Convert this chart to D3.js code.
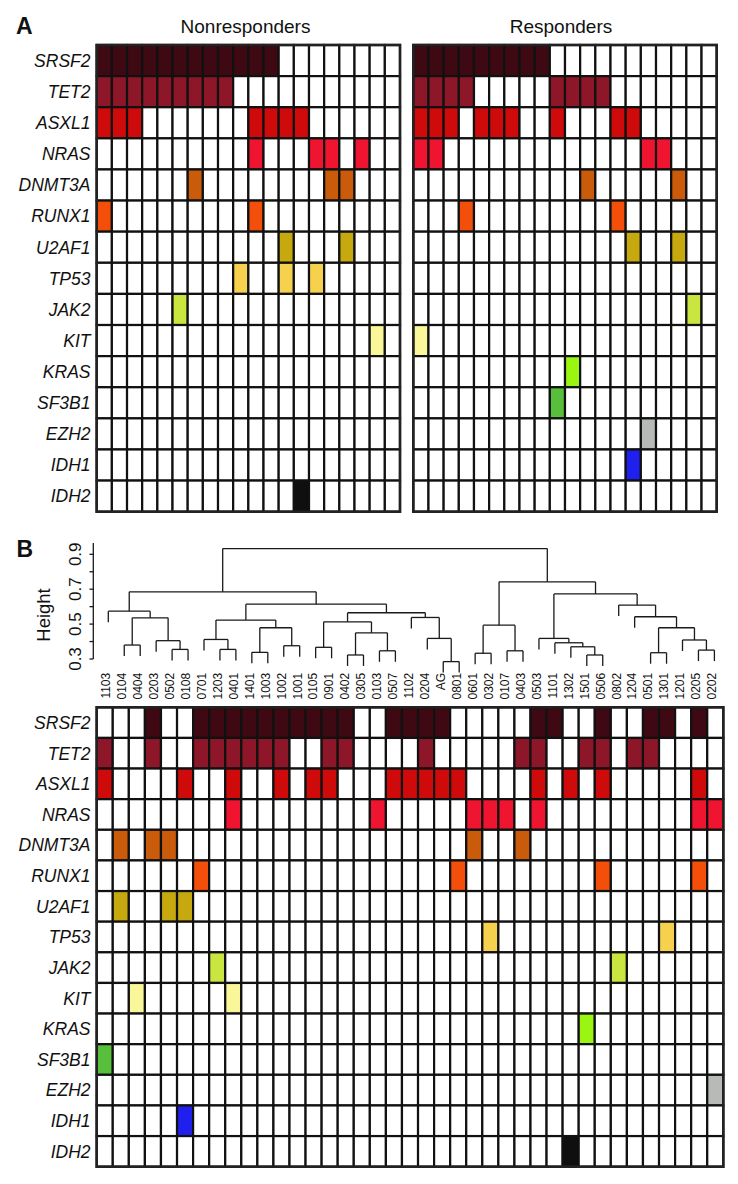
<!DOCTYPE html>
<html><head><meta charset="utf-8">
<script src="https://cdn.jsdelivr.net/npm/d3@7"></script>
<style>
body{margin:0;background:#fff}
svg{display:block}
text{font-family:"Liberation Sans",Arial,Helvetica,sans-serif;fill:#111}
</style>
</head><body>
<svg id="chart" width="738" height="1184"></svg>
<script>
// ---------- DATA ----------
const genes = ["SRSF2","TET2","ASXL1","NRAS","DNMT3A","RUNX1","U2AF1","TP53","JAK2","KIT","KRAS","SF3B1","EZH2","IDH1","IDH2"];
const geneColors = ["#3f0914","#8e1629","#cf0a0a","#ef1530","#c95b0b","#f44f0a","#c6a90f","#f6d14d","#c9e53f","#f9f79a","#9af511","#58bf3c","#b7bab6","#2020ee","#0f0f0f"];

// Panel A: mutated column indices per gene (20 patients each)
const nonresponders = [
  [0,1,2,3,4,5,6,7,8,9,10,11],
  [0,1,2,3,4,5,6,7,8],
  [0,1,2,10,11,12,13],
  [10,14,15,17],
  [6,15,16],
  [0,10],
  [12,16],
  [9,12,14],
  [5],
  [18],
  [],
  [],
  [],
  [],
  [13]
];
const responders = [
  [0,1,2,3,4,5,6,7,8],
  [0,1,2,3,9,10,11,12],
  [0,1,2,4,5,6,9,13,14],
  [0,1,15,16],
  [11,17],
  [3,13],
  [14,17],
  [],
  [18],
  [0],
  [10],
  [9],
  [15],
  [14],
  []
];

// Panel B: leaf order of the clustering
const clusterLabels = ["1103","0104","0404","0203","0502","0108","0701","1203","0401","1401","1003","1002","1001","0105","0901","0402","0305","0103","0507","1102","0204","AG","0801","0601","0302","0107","0403","0503","1101","1302","1501","0506","0802","1204","0501","1301","1201","0205","0202"];
const clusterMutations = [
  [3,6,7,8,9,10,11,12,13,14,15,18,19,20,21,27,28,31,34,35,37],
  [0,3,6,7,8,9,10,11,14,15,20,26,27,30,31,33,34],
  [0,5,8,11,13,14,18,19,20,21,22,27,29,31,37],
  [8,17,23,24,25,27,37,38],
  [1,3,4,23,26],
  [6,22,31,37],
  [1,4,5],
  [24,35],
  [7,32],
  [2,8],
  [30],
  [0],
  [38],
  [5],
  [29]
];

// hclust-style merges: negative = leaf (1-based), positive = earlier merge (1-based)
const mergePairs = [
  [-22,-23],[-16,-17],[-31,-32],[-24,-25],[-35,-36],[-10,-11],[-5,-6],[-8,-9],
  [-18,-19],[-26,-27],[-38,-39],[-14,-15],[-30,3],[-12,-13],[-2,-3],[-29,13],
  [-4,7],[-37,11],[-7,8],[-28,16],[-21,1],[2,9],[6,14],[5,18],[4,10],[12,22],
  [19,23],[15,17],[-20,21],[-34,24],[26,29],[-1,28],[-33,30],[27,31],[20,33],
  [32,34],[25,35],[36,37]
];
const mergeHeights = [
  0.285,0.323,0.323,0.333,0.336,0.338,0.355,0.355,
  0.347,0.347,0.351,0.367,0.370,0.376,0.380,0.393,
  0.405,0.409,0.412,0.418,0.418,0.450,0.479,0.479,0.494,0.513,
  0.523,0.536,0.538,0.542,0.565,0.574,0.609,0.614,0.673,
  0.685,0.742,0.933
];
const heightTicks = [0.3,0.4,0.5,0.6,0.7,0.8,0.9];
const heightTickLabels = ["0.3","","0.5","","0.7","","0.9"];

// ---------- DRAW ----------
const svg = d3.select("#chart");
const ink = "#111";

function drawGrid(x0, x1, y0, y1, nCols, mutations) {
  const g = svg.append("g");
  const xs = d3.scaleBand().domain(d3.range(nCols)).range([x0, x1]);
  const ys = d3.scaleBand().domain(genes).range([y0, y1]);
  const cells = [];
  genes.forEach((gene, r) => {
    d3.range(nCols).forEach(c => {
      cells.push({gene, c, on: mutations[r].includes(c), color: geneColors[r]});
    });
  });
  g.selectAll("rect.cell").data(cells).join("rect")
    .attr("class","cell")
    .attr("x", d => xs(d.c))
    .attr("y", d => ys(d.gene))
    .attr("width", xs.bandwidth())
    .attr("height", ys.bandwidth())
    .attr("fill", d => d.on ? d.color : "#fff")
    .attr("stroke", ink)
    .attr("stroke-width", 2.2);
  g.append("rect")
    .attr("x", x0).attr("y", y0).attr("width", x1 - x0).attr("height", y1 - y0)
    .attr("fill","none").attr("stroke","#222").attr("stroke-width",2.6);
  return ys;
}

function rowLabels(ys, xRight) {
  svg.append("g").selectAll("text").data(genes).join("text")
    .attr("x", xRight)
    .attr("y", d => ys(d) + ys.bandwidth()/2)
    .attr("dy","0.36em")
    .attr("text-anchor","end")
    .attr("font-style","italic")
    .attr("font-size", 17.5)
    .text(d => d);
}

// Panel A
svg.append("text").attr("x",16).attr("y",33.5).attr("font-weight","bold").attr("font-size",23).text("A");
const ysA = drawGrid(96.7, 400, 45, 511.7, 20, nonresponders);
drawGrid(413.3, 716.7, 45, 511.7, 20, responders);
rowLabels(ysA, 90.5);
svg.append("text").attr("x",245.5).attr("y",33.3).attr("text-anchor","middle").attr("font-size",19).text("Nonresponders");
svg.append("text").attr("x",561).attr("y",32.5).attr("text-anchor","middle").attr("font-size",19).text("Responders");

// Panel B
svg.append("text").attr("x",16.5).attr("y",557).attr("font-weight","bold").attr("font-size",23).text("B");
const ysB = drawGrid(96.7, 723.3, 707.3, 1166.7, clusterLabels.length, clusterMutations);
rowLabels(ysB, 90.5);

// Dendrogram
const xLeaf = d3.scalePoint().domain(d3.range(clusterLabels.length)).range([108.3, 714.4]);
const yH = d3.scaleLinear().domain([0.3, 0.9]).range([659, 554.3]);
const hang = 0.063;
const dg = svg.append("g").attr("stroke","#1a1a1a").attr("stroke-width",1.3).attr("fill","none");
const nodes = [];
const segs = [];
function ref(v) {
  return v < 0 ? {x: xLeaf(-v - 1), h: null} : nodes[v - 1];
}
mergePairs.forEach((pair, k) => {
  const h = mergeHeights[k];
  const a = ref(pair[0]), b = ref(pair[1]);
  segs.push([a.x, h, b.x, h]);
  [a, b].forEach(ch => {
    const bottom = ch.h === null ? h - hang : ch.h;
    segs.push([ch.x, h, ch.x, bottom]);
  });
  nodes.push({x: (a.x + b.x) / 2, h});
});
dg.selectAll("line").data(segs).join("line")
  .attr("x1", d => d[0]).attr("y1", d => yH(d[1]))
  .attr("x2", d => d[2]).attr("y2", d => yH(d[3]));

// Height axis
const ax = svg.append("g");
ax.append("line").attr("x1",93.3).attr("x2",93.3).attr("y1",yH(0.3)).attr("y2",543)
  .attr("stroke","#1a1a1a").attr("stroke-width",1.3);
ax.selectAll("line.tick").data(heightTicks).join("line").attr("class","tick")
  .attr("x1",89.5).attr("x2",93.3).attr("y1",d=>yH(d)).attr("y2",d=>yH(d))
  .attr("stroke","#1a1a1a").attr("stroke-width",1.3);
ax.selectAll("text").data(heightTicks).join("text")
  .attr("transform", d => `translate(81,${yH(d)}) rotate(-90)`)
  .attr("text-anchor","middle")
  .attr("font-size",17)
  .text((d,i) => heightTickLabels[i]);
svg.append("text").attr("transform","translate(50,615) rotate(-90)")
  .attr("text-anchor","middle").attr("font-size",18.5).text("Height");

// Leaf labels
svg.append("g").selectAll("text").data(clusterLabels).join("text")
  .attr("transform", (d,i) => `translate(${xLeaf(i) + 1.8},672.8) rotate(-90)`)
  .attr("text-anchor","end")
  .attr("font-size",12)
  .text(d => d);
</script>
</body></html>
